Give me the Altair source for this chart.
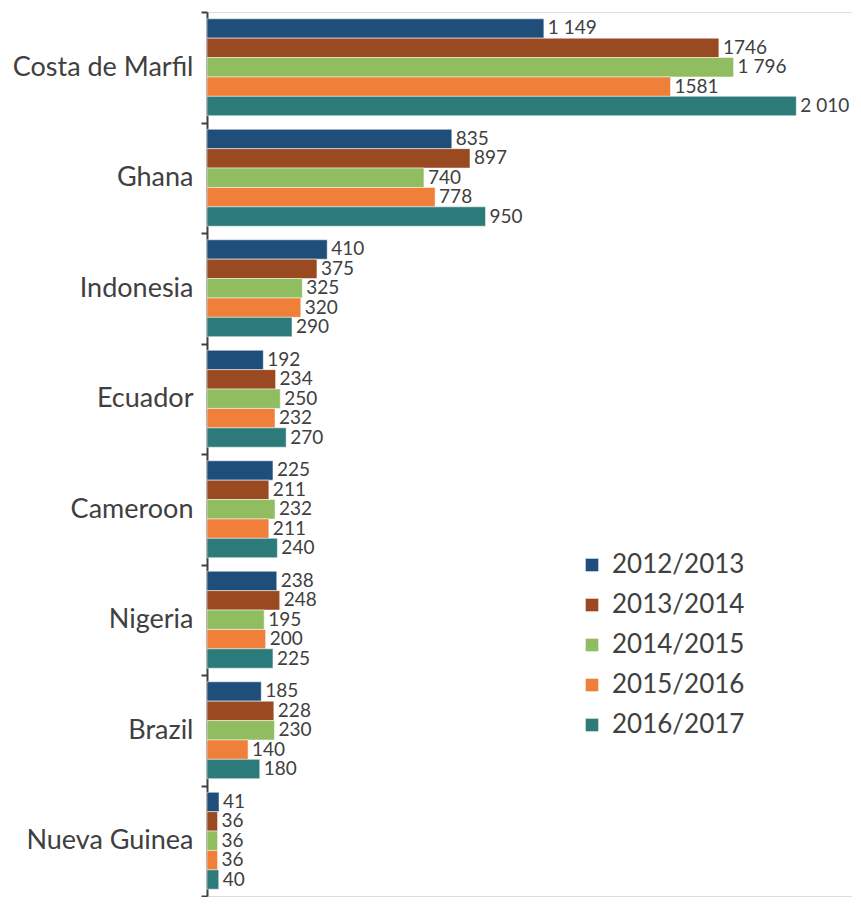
import altair as alt
import pandas as pd

countries = ["Costa de Marfil", "Ghana", "Indonesia", "Ecuador", "Cameroon", "Nigeria", "Brazil", "Nueva Guinea"]
seasons = ["2012/2013", "2013/2014", "2014/2015", "2015/2016", "2016/2017"]
colors = ["#1f4e7a", "#9a4a20", "#8fbd60", "#f07f3a", "#2d7a7a"]

v_2012 = [1149, 835, 410, 192, 225, 238, 185, 41]
v_2013 = [1746, 897, 375, 234, 211, 248, 228, 36]
v_2014 = [1796, 740, 325, 250, 232, 195, 230, 36]
v_2015 = [1581, 778, 320, 232, 211, 200, 140, 36]
v_2016 = [2010, 950, 290, 270, 240, 225, 180, 40]

t_2012 = ["1 149", "835", "410", "192", "225", "238", "185", "41"]
t_2013 = ["1746", "897", "375", "234", "211", "248", "228", "36"]
t_2014 = ["1 796", "740", "325", "250", "232", "195", "230", "36"]
t_2015 = ["1581", "778", "320", "232", "211", "200", "140", "36"]
t_2016 = ["2 010", "950", "290", "270", "240", "225", "180", "40"]

values = [v_2012, v_2013, v_2014, v_2015, v_2016]
texts = [t_2012, t_2013, t_2014, t_2015, t_2016]

rows = []
for s, vals, txts in zip(seasons, values, texts):
    for c, v, t in zip(countries, vals, txts):
        rows.append({"country": c, "season": s, "value": v, "label": t})
df = pd.DataFrame(rows)

FONT = "Lato"
GRAY = "#404040"

y_enc = alt.Y("country:N", sort=countries, title=None,
              scale=alt.Scale(paddingInner=0, paddingOuter=0),
              axis=alt.Axis(tickBand="extent", labelFontSize=27, labelFont=FONT,
                            labelColor=GRAY, domainColor=GRAY, tickColor=GRAY,
                            domainWidth=2, tickWidth=2, tickSize=6, labelPadding=8,
                            labelLimit=400))
yoff = alt.YOffset("season:N", sort=seasons,
                   scale=alt.Scale(paddingInner=0, paddingOuter=0.35))
x_enc = alt.X("value:Q", scale=alt.Scale(domain=[0, 2200]), axis=None)

base = alt.Chart(df)

bars = base.mark_bar(stroke="white", strokeWidth=0.5).encode(
    y=y_enc, yOffset=yoff, x=x_enc,
    color=alt.Color("season:N", sort=seasons,
                    scale=alt.Scale(domain=seasons, range=colors),
                    legend=alt.Legend(title=None, orient="none", legendX=372, legendY=540,
                                      symbolType="square", symbolSize=160,
                                      symbolStrokeWidth=0, labelFontSize=26,
                                      labelFont=FONT, labelColor=GRAY, labelOffset=7,
                                      rowPadding=14, padding=0)),
)

labels = base.mark_text(align="left", baseline="middle", dx=4, font=FONT,
                        fontSize=19, color=GRAY).encode(
    y=alt.Y("country:N", sort=countries), yOffset=yoff, x=x_enc, text="label:N",
)

chart = alt.layer(bars, labels).properties(
    width=645, height=884,
    padding={"left": 199, "top": 4, "right": 0, "bottom": 1},
    autosize=alt.AutoSizeParams(type="none"),
).configure_view(stroke=None).configure(background="white")

chart.save("out.html", embed_options={"renderer": "svg", "actions": False})
